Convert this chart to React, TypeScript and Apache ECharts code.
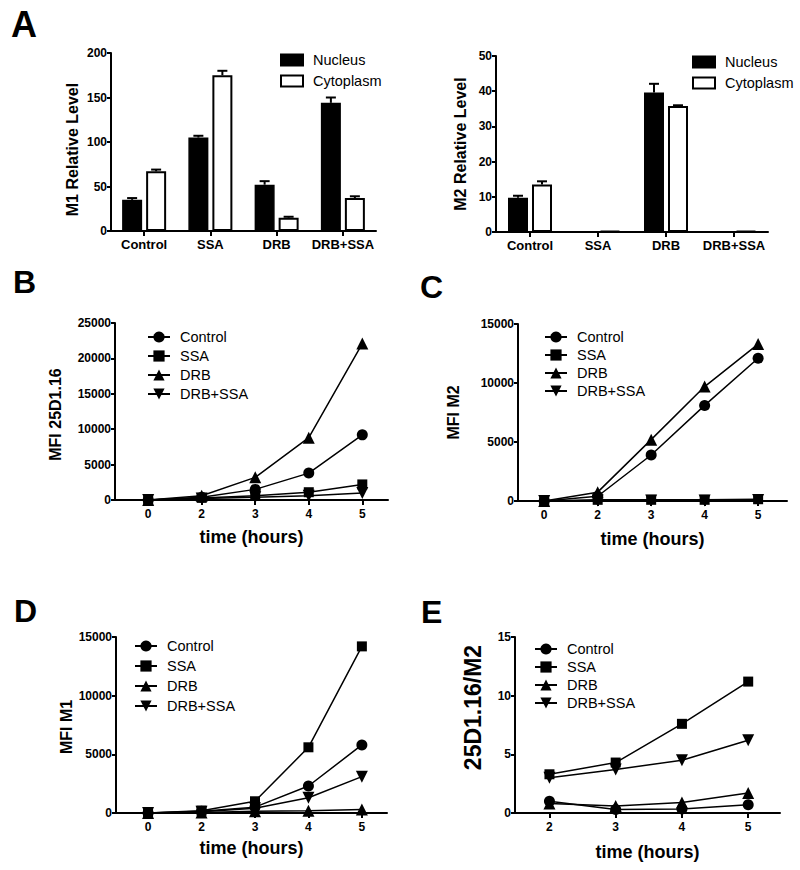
import React, { useEffect, useRef } from "react";
import * as echarts from "echarts";

// ---------- Panel A (bar charts) ----------
const barCategories = ["Control", "SSA", "DRB", "DRB+SSA"];
const barSeriesNames = ["Nucleus", "Cytoplasm"];
const m1Nucleus = [35, 105, 52, 144];
const m1NucleusErr = [2, 2, 4, 6];
const m1Cytoplasm = [67, 175, 15, 37];
const m1CytoplasmErr = [2, 5, 1, 2];
const m2Nucleus = [9.7, 0.2, 39.6, 0.2];
const m2NucleusErr = [0.6, 0, 2.5, 0];
const m2Cytoplasm = [13.5, 0.3, 35.8, 0.3];
const m2CytoplasmErr = [0.9, 0, 0.2, 0];

// ---------- Panels B-E (line charts) ----------
const groupNames = ["Control", "SSA", "DRB", "DRB+SSA"];
const timeLabels = ["0", "2", "3", "4", "5"];
const ratioTimeLabels = ["2", "3", "4", "5"];

// B: MFI 25D1.16
const mfi25Control = [0, 400, 1500, 3800, 9200];
const mfi25SSA = [0, 300, 600, 1100, 2200];
const mfi25DRB = [0, 600, 3200, 8800, 22100];
const mfi25DRBSSA = [0, 200, 400, 600, 1000];
// C: MFI M2
const mfiM2Control = [0, 400, 3900, 8100, 12100];
const mfiM2SSA = [0, 100, 100, 100, 150];
const mfiM2DRB = [0, 750, 5200, 9700, 13300];
const mfiM2DRBSSA = [0, 50, 50, 50, 80];
// D: MFI M1
const mfiM1Control = [0, 150, 500, 2300, 5800];
const mfiM1SSA = [0, 200, 1000, 5600, 14200];
const mfiM1DRB = [0, 50, 150, 200, 300];
const mfiM1DRBSSA = [0, 100, 400, 1300, 3100];
// E: 25D1.16/M2
const ratioControl = [1.0, 0.3, 0.35, 0.7];
const ratioSSA = [3.3, 4.3, 7.6, 11.2];
const ratioDRB = [0.8, 0.6, 0.9, 1.7];
const ratioDRBSSA = [3.0, 3.7, 4.5, 6.2];

const FONT = '"Liberation Sans", Arial, Helvetica, sans-serif';
const INK = "#000";

const symbolFor = [
  { symbol: "circle", size: 11, rotate: 0 },
  { symbol: "rect", size: 10, rotate: 0 },
  { symbol: "triangle", size: 12, rotate: 0 },
  { symbol: "triangle", size: 12, rotate: 180 },
];

function errorRender(offset: number) {
  return (params: any, api: any) => {
    const c = api.value(0);
    const v = api.value(1);
    const e = api.value(2);
    if (!e) return { type: "group", children: [] };
    const base = api.coord([c, v]);
    const top = api.coord([c, v + e]);
    const x = base[0] + offset;
    return {
      type: "group",
      children: [
        { type: "line", shape: { x1: x, y1: base[1], x2: x, y2: top[1] }, style: { stroke: INK, lineWidth: 2 } },
        { type: "line", shape: { x1: x - 5, y1: top[1], x2: x + 5, y2: top[1] }, style: { stroke: INK, lineWidth: 2 } },
      ],
    };
  };
}

function buildOption() {
  const grid: any[] = [];
  const xAxis: any[] = [];
  const yAxis: any[] = [];
  const series: any[] = [];
  const legend: any[] = [];

  const axisLine = { show: true, onZero: false, lineStyle: { color: INK, width: 2 } };
  const tickStyle = { color: INK, width: 2 };
  const tickLabel = { color: INK, fontFamily: FONT, fontWeight: "bold", fontSize: 12 };
  const titleStyle = { color: INK, fontFamily: FONT, fontWeight: "bold", fontSize: 16 };
  const legendText = { color: INK, fontFamily: FONT, fontSize: 14.5, padding: [0, 0, 0, 5] };

  // ----- bar panels -----
  const barPanels = [
    {
      grid: { left: 111, top: 53, width: 265, height: 178 },
      yMax: 200, yInterval: 50, yName: "M1 Relative Level", yNameGap: 31, yNamePad: [0, 15, 0, 0],
      nuc: m1Nucleus, nucErr: m1NucleusErr, cyto: m1Cytoplasm, cytoErr: m1CytoplasmErr,
      legend: { left: 280, top: 52.5 },
    },
    {
      grid: { left: 496, top: 56, width: 272, height: 176 },
      yMax: 50, yInterval: 10, yName: "M2 Relative Level", yNameGap: 28, yNamePad: [0, 0, 0, 0],
      nuc: m2Nucleus, nucErr: m2NucleusErr, cyto: m2Cytoplasm, cytoErr: m2CytoplasmErr,
      legend: { left: 692, top: 54.5 },
    },
  ];

  barPanels.forEach((p) => {
    const gi = grid.length;
    grid.push({ ...p.grid, outerBoundsMode: "none" });
    xAxis.push({
      type: "category", gridIndex: gi, data: barCategories,
      axisLine, axisTick: { show: true, alignWithLabel: true, length: 5, lineStyle: tickStyle },
      axisLabel: { ...tickLabel, fontSize: 13, margin: 7, interval: 0 },
      splitLine: { show: false },
    });
    yAxis.push({
      type: "value", gridIndex: gi, min: 0, max: p.yMax, interval: p.yInterval,
      axisLine, axisTick: { show: true, length: 4, lineStyle: tickStyle },
      axisLabel: { ...tickLabel, margin: 4, formatter: (v: number) => String(v) },
      splitLine: { show: false },
      name: p.yName, nameLocation: "middle", nameRotate: 90, nameGap: p.yNameGap,
      nameTextStyle: { ...titleStyle, padding: p.yNamePad },
    });
    series.push({
      type: "bar", name: barSeriesNames[0], xAxisIndex: gi, yAxisIndex: gi, data: p.nuc,
      barWidth: 20, barGap: "20%",
      itemStyle: { color: INK, borderColor: INK, borderWidth: 1.5 },
    });
    series.push({
      type: "bar", name: barSeriesNames[1], xAxisIndex: gi, yAxisIndex: gi, data: p.cyto,
      barWidth: 20, barGap: "20%",
      itemStyle: { color: "#fff", borderColor: INK, borderWidth: 2 },
    });
    series.push({
      type: "custom", xAxisIndex: gi, yAxisIndex: gi, z: 5, silent: true,
      data: p.nuc.map((v, k) => [k, v, p.nucErr[k]]),
      renderItem: errorRender(-12),
    });
    series.push({
      type: "custom", xAxisIndex: gi, yAxisIndex: gi, z: 5, silent: true,
      data: p.cyto.map((v, k) => [k, v, p.cytoErr[k]]),
      renderItem: errorRender(12),
    });
    legend.push({
      data: barSeriesNames, left: p.legend.left, top: p.legend.top, orient: "vertical", padding: 0,
      icon: "rect", itemWidth: 22, itemHeight: 11, itemGap: 6, selectedMode: false,
      textStyle: legendText,
    });
  });

  // ----- line panels -----
  const linePanels = [
    {
      grid: { left: 115, top: 323, width: 273, height: 177 },
      xMin: -0.62, xMax: 4.48, labels: timeLabels,
      yMax: 25000, yInterval: 5000, yName: "MFI 25D1.16", yNameGap: 52, yNamePad: [0, 6, 0, 0], xNameGap: 28,
      data: [mfi25Control, mfi25SSA, mfi25DRB, mfi25DRBSSA],
      legend: { left: 147, top: 329.5, itemGap: 4 }, yNameSize: 16,
    },
    {
      grid: { left: 518, top: 324, width: 269, height: 177 },
      xMin: -0.49, xMax: 4.54, labels: timeLabels,
      yMax: 15000, yInterval: 5000, yName: "MFI M2", yNameGap: 57, yNamePad: [0, 0, 0, 0], xNameGap: 29,
      data: [mfiM2Control, mfiM2SSA, mfiM2DRB, mfiM2DRBSSA],
      legend: { left: 544, top: 329.5, itemGap: 3 }, yNameSize: 16,
    },
    {
      grid: { left: 116, top: 637, width: 271, height: 176 },
      xMin: -0.6, xMax: 4.47, labels: timeLabels,
      yMax: 15000, yInterval: 5000, yName: "MFI M1", yNameGap: 36, yNamePad: [0, 4, 0, 0], xNameGap: 26,
      data: [mfiM1Control, mfiM1SSA, mfiM1DRB, mfiM1DRBSSA],
      legend: { left: 134, top: 638.5, itemGap: 5 }, yNameSize: 16,
    },
    {
      grid: { left: 515, top: 637, width: 265, height: 176 },
      xMin: -0.52, xMax: 3.48, labels: ratioTimeLabels,
      yMax: 15, yInterval: 5, yName: "25D1.16/M2", yNameGap: 31, yNamePad: [0, 0, 0, 35], xNameGap: 30,
      data: [ratioControl, ratioSSA, ratioDRB, ratioDRBSSA],
      legend: { left: 534, top: 641.5, itemGap: 3 }, yNameSize: 23,
    },
  ];

  linePanels.forEach((p) => {
    const gi = grid.length;
    grid.push({ ...p.grid, outerBoundsMode: "none" });
    const ticks = p.labels.map((_, i) => i);
    xAxis.push({
      type: "value", gridIndex: gi, min: p.xMin, max: p.xMax,
      axisLine,
      axisTick: { show: true, length: 5, lineStyle: tickStyle, customValues: ticks },
      axisLabel: { ...tickLabel, margin: 8, customValues: ticks, formatter: (v: number) => p.labels[Math.round(v)] ?? "" },
      splitLine: { show: false },
      name: "time (hours)", nameLocation: "middle", nameGap: p.xNameGap,
      nameTextStyle: { ...titleStyle, fontSize: 18 },
    });
    yAxis.push({
      type: "value", gridIndex: gi, min: 0, max: p.yMax, interval: p.yInterval,
      axisLine, axisTick: { show: true, length: 4, lineStyle: tickStyle },
      axisLabel: { ...tickLabel, margin: 4, formatter: (v: number) => String(v) },
      splitLine: { show: false },
      name: p.yName, nameLocation: "middle", nameRotate: 90, nameGap: p.yNameGap,
      nameTextStyle: { ...titleStyle, fontSize: p.yNameSize, padding: p.yNamePad },
    });
    p.data.forEach((vals, si) => {
      const s = symbolFor[si];
      series.push({
        type: "line", name: groupNames[si], xAxisIndex: gi, yAxisIndex: gi,
        data: vals.map((v, k) => [k, v]),
        symbol: s.symbol, symbolSize: s.size, symbolRotate: s.rotate,
        lineStyle: { color: INK, width: 1.5 },
        itemStyle: { color: INK },
        z: 3,
      });
    });
    legend.push({
      data: groupNames, left: p.legend.left, top: p.legend.top, orient: "vertical", padding: 0,
      itemWidth: 22, itemHeight: 14, itemGap: p.legend.itemGap, selectedMode: false,
      textStyle: legendText,
    });
  });

  const letter = (t: string, x: number, y: number, size: number) => ({
    type: "text", x, y,
    style: { text: t, fill: INK, fontFamily: FONT, fontWeight: "bold", fontSize: size, textVerticalAlign: "middle", textAlign: "left" },
  });

  return {
    animation: false,
    backgroundColor: "#fff",
    textStyle: { fontFamily: FONT },
    grid, xAxis, yAxis, series, legend,
    graphic: [
      letter("A", 11, 24, 36),
      letter("B", 13, 282, 32),
      letter("C", 420, 287, 32),
      letter("D", 14, 611, 32),
      letter("E", 421, 612, 32),
    ],
  };
}

export default function App() {
  const ref = useRef<HTMLDivElement>(null);
  useEffect(() => {
    if (!ref.current) return;
    const chart = echarts.init(ref.current, null, { renderer: "svg" });
    chart.setOption(buildOption() as any);
    return () => chart.dispose();
  }, []);
  return (
    <div
      ref={ref}
      style={{ position: "absolute", left: 0, top: 0, width: 800, height: 870, background: "#fff" }}
    />
  );
}
